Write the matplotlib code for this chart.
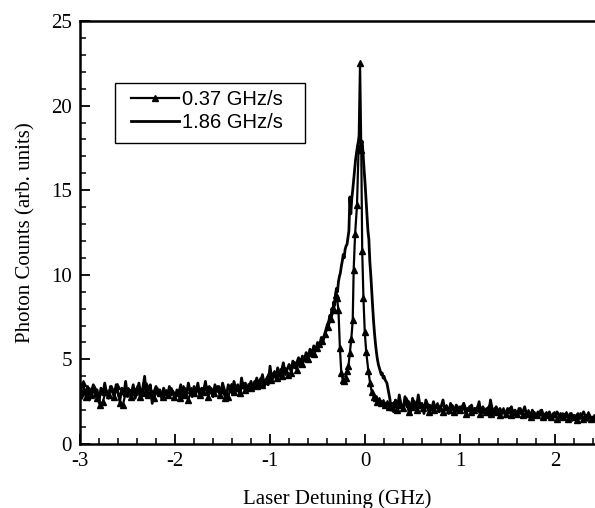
import numpy as np
import matplotlib
matplotlib.use("Agg")
import matplotlib.pyplot as plt
from matplotlib.patches import Rectangle
from matplotlib.ticker import MultipleLocator, FormatStrFormatter

# ===============================
# DATA
# ===============================
# 1.86 GHz/s scan (solid line)
fast_x_left = np.linspace(-3.00, -0.40, 131)
fast_y_left = [
    3.2, 2.7, 3.3, 2.9, 3.4, 2.6, 3.1, 3.5, 2.8, 3.2,
    2.5, 3.3, 2.9, 3.6, 3.0, 2.7, 3.4, 3.1, 2.8, 3.5,
    3.0, 2.6, 3.3, 2.9, 3.7, 2.8, 3.2, 3.0, 3.5, 2.7,
    3.1, 3.6, 2.9, 3.3, 4.0, 2.8, 3.2, 3.5, 2.4, 3.1,
    3.4, 2.9, 3.2, 2.7, 3.3, 3.0, 2.8, 3.4, 2.9, 3.1,
    2.7, 3.2, 3.0, 3.5, 2.8, 3.3, 2.9, 3.6, 3.1, 2.8,
    3.4, 3.0, 3.6, 2.9, 3.3, 3.1, 3.7, 2.9, 3.4, 3.2,
    2.8, 3.5, 3.1, 3.4, 2.9, 3.6, 3.2, 2.8, 3.5, 3.3,
    3.0, 3.7, 3.2, 3.5, 2.9, 3.9, 3.3, 3.6, 3.1, 3.4,
    3.7, 3.2, 3.5, 3.9, 3.3, 3.6, 4.1, 3.4, 3.8, 3.5,
    4.6, 3.7, 4.2, 3.9, 4.5, 4.0, 4.3, 4.8, 4.1, 4.4,
    4.7, 4.3, 4.9, 4.5, 4.8, 5.1, 4.6, 5.2, 5.0, 5.4,
    5.1, 5.6, 5.3, 5.8, 5.5, 6.0, 5.8, 6.3, 6.1, 6.6, 7.0,
]
fast_x_peak = np.linspace(-0.38, 0.30, 69)
fast_y_peak = [
    7.3, 7.6, 7.4, 8.0, 7.8, 8.4, 8.2, 8.9, 9.2, 9.0,
    9.6, 9.9, 10.1, 10.5, 10.8, 11.2, 11.0, 11.5, 11.7, 11.8,
    12.2, 12.6, 14.6, 13.6, 14.5, 15.0, 15.6, 16.2, 16.8, 17.2,
    17.6, 17.9, 18.2, 18.0, 17.7, 17.9, 17.0, 16.2, 15.4, 14.5,
    13.5, 12.6, 12.1, 10.8, 10.0, 9.0, 8.1, 7.2, 6.5, 5.9,
    5.4, 5.0, 4.7, 4.5, 4.3, 4.1, 4.2, 3.9, 4.0, 3.8,
    3.7, 3.6, 3.3, 3.0, 2.7, 2.3, 2.0, 2.4, 1.9,
]
fast_x_right = np.linspace(0.32, 2.42, 106)
fast_y_right = [
    2.6, 2.1, 2.9, 2.3, 2.0, 2.8, 2.2, 2.5, 1.9, 2.7,
    2.3, 2.1, 2.9, 2.2, 2.4, 1.8, 2.6, 2.1, 2.3, 2.0,
    2.5, 2.1, 2.3, 1.9, 2.2, 2.6, 2.0, 2.2, 1.8, 2.4,
    2.1, 2.0, 2.3, 1.9, 2.2, 2.0, 2.4, 1.8, 2.1, 2.0,
    2.3, 1.9, 2.1, 2.0, 2.5, 1.8, 2.2, 1.9, 2.1, 1.7,
    2.6, 2.0, 1.8, 2.2, 1.9, 2.1, 1.8, 2.0, 1.6, 2.1,
    1.9, 2.2, 1.8, 2.0, 1.7, 2.1, 1.8, 1.9, 2.2, 1.7,
    1.9, 1.5, 2.0, 1.8, 1.6, 1.9, 1.7, 2.0, 1.6, 1.8,
    1.7, 1.9, 1.5, 1.8, 1.6, 1.9, 1.7, 1.5, 1.8, 1.6,
    1.7, 1.5, 1.8, 1.4, 1.7, 1.6, 1.8, 1.5, 1.7, 1.9,
    1.6, 1.4, 1.7, 1.5, 1.6, 1.4,
]

# 0.37 GHz/s scan (line + triangles)
slow_x_left = np.linspace(-3.00, -0.33, 90)
slow_y_left = [
    3.0, 3.6, 2.8, 3.2, 2.9, 3.3, 2.7, 2.3, 2.5, 3.1,
    2.9, 3.3, 2.8, 3.4, 2.4, 2.3, 3.0, 3.2, 2.8, 3.1,
    3.3, 2.8, 3.0, 3.5, 2.9, 3.1, 2.7, 3.2, 3.0, 2.8,
    3.1, 2.9, 3.2, 2.8, 3.0, 2.7, 3.3, 2.9, 2.6, 3.2,
    3.0, 3.3, 2.9, 3.1, 3.4, 2.8, 3.2, 3.0, 3.3, 2.9,
    3.2, 2.7, 2.8, 3.4, 3.1, 3.3, 3.0, 3.5, 3.2, 3.4,
    3.3, 3.6, 3.4, 3.8, 3.5, 3.7, 4.0, 3.8, 4.2, 3.9,
    4.3, 4.0, 4.4, 4.1, 4.2, 4.7, 4.4, 4.9, 4.7, 5.1,
    5.0, 5.4, 5.3, 5.7, 5.9, 6.1, 6.5, 6.9, 7.4, 7.9,
]
slow_x_peak = [-0.31, -0.295, -0.28, -0.265, -0.25, -0.235, -0.22, -0.205,
               -0.19, -0.175, -0.16, -0.145, -0.13, -0.12, -0.105, -0.085,
               -0.068, -0.053, -0.04, -0.03, -0.017, -0.003, 0.012, 0.035,
               0.053, 0.07, 0.09, 0.11, 0.13, 0.15, 0.17, 0.19, 0.21, 0.23,
               0.25]
slow_y_peak = [8.8, 8.6, 7.9, 5.7, 4.2, 3.8, 3.7, 3.9,
               4.3, 4.6, 5.4, 6.2, 7.3, 10.3, 12.4, 14.1,
               17.5, 22.5, 17.4, 11.4, 8.6, 6.6, 5.45, 4.3,
               3.6, 3.1, 2.8, 2.7, 2.5, 2.6, 2.4, 2.5, 2.3, 2.4,
               2.2]
slow_x_right = np.linspace(0.28, 2.41, 72)
slow_y_right = [
    2.2, 2.5, 2.0, 2.3, 2.1, 2.6, 1.9, 2.2, 2.4, 2.0,
    2.3, 2.1, 2.4, 1.9, 2.2, 2.0, 2.3, 2.1, 1.9, 2.2,
    2.0, 2.2, 1.9, 2.1, 2.0, 2.3, 1.8, 2.1, 1.9, 2.0,
    2.1, 1.8, 2.0, 1.9, 2.2, 1.8, 2.0, 1.9, 1.7, 2.0,
    1.8, 2.0, 1.7, 1.9, 1.8, 2.0, 1.7, 1.8, 1.9, 1.6,
    1.8, 1.7, 1.9, 1.6, 1.8, 1.7, 1.6, 1.8, 1.5, 1.7,
    1.6, 1.8, 1.5, 1.7, 1.6, 1.4, 1.7, 1.5, 1.6, 1.8,
    1.5, 1.6,
]

fast_x = np.concatenate([fast_x_left, fast_x_peak, fast_x_right])
fast_y = np.concatenate([fast_y_left, fast_y_peak, fast_y_right])
slow_x = np.concatenate([slow_x_left, slow_x_peak, slow_x_right])
slow_y = np.concatenate([slow_y_left, slow_y_peak, slow_y_right])

# ===============================
# PLOT
# ===============================
plt.rcParams["font.family"] = "Liberation Serif"

W, H = 595, 508
fig = plt.figure(figsize=(W / 100, H / 100), dpi=100)
ax = fig.add_axes([0.1345, 0.126, 0.8655, 0.8327])

ax.plot(slow_x, slow_y, color="black", linewidth=1.6, marker="^",
        markersize=4.5, label="0.37 GHz/s")
ax.plot(fast_x, fast_y, color="black", linewidth=2.0, label="1.86 GHz/s")

ax.set_xlim(-3, 2.42)
ax.set_ylim(0, 25)
ax.xaxis.set_major_locator(MultipleLocator(1))
ax.xaxis.set_minor_locator(MultipleLocator(0.2))
ax.xaxis.set_major_formatter(FormatStrFormatter("%d"))
ax.yaxis.set_major_locator(MultipleLocator(5))
ax.yaxis.set_minor_locator(MultipleLocator(1))
ax.tick_params(which="both", direction="in", top=False, right=False)
ax.tick_params(which="major", length=7.5, width=1.3, labelsize=15, pad=6)
ax.tick_params(which="minor", length=4, width=1.1)

ax.spines["right"].set_visible(False)
for s in ["left", "bottom", "top"]:
    ax.spines[s].set_linewidth(1.8)

ax.set_xlabel("Laser Detuning (GHz)", fontsize=15, labelpad=13)
ax.set_ylabel("Photon Counts (arb. units)", fontsize=15, labelpad=11)

# legend: frameless entries plus a square box drawn in figure pixels
leg = ax.legend(loc="upper left", bbox_to_anchor=(131 / W, 1 - 90 / H),
                bbox_transform=fig.transFigure, borderaxespad=0,
                frameon=False, handlelength=2.4, handletextpad=0.15,
                labelspacing=0.2, borderpad=0,
                prop={"family": "Liberation Sans", "size": 14.5})
box = Rectangle((115 / W, 1 - 143 / H), 190 / W, 60 / H,
                transform=fig.transFigure, fill=False,
                edgecolor="black", linewidth=1.0, zorder=5)
fig.patches.append(box)

fig.savefig("out.png", dpi=100)
